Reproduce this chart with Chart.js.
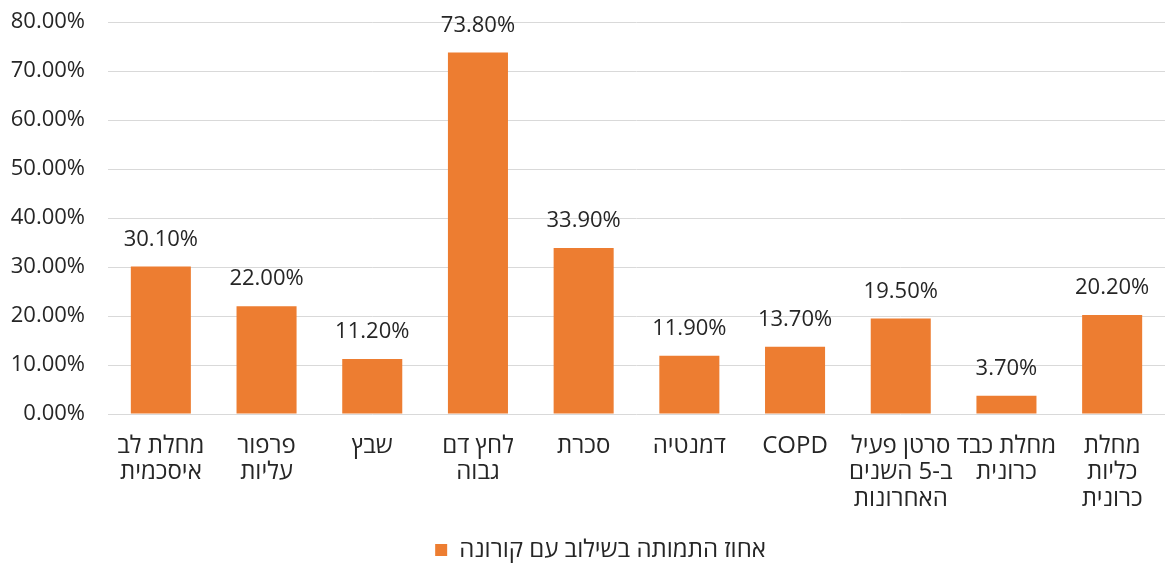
<!DOCTYPE html>
<html>
<head>
<meta charset="utf-8">
<script src="https://cdn.jsdelivr.net/npm/chart.js@4/dist/chart.umd.min.js"></script>
<style>
  html, body { margin: 0; padding: 0; background: #ffffff; }
  #wrap { width: 1165px; height: 565px; position: relative; }
</style>
</head>
<body>
<div id="wrap"><canvas id="c" width="1165" height="565"></canvas></div>
<script>
const categories = [
  ["מחלת לב", "איסכמית"],
  ["פרפור", "עליות"],
  "שבץ",
  ["לחץ דם", "גבוה"],
  "סכרת",
  "דמנטיה",
  "COPD",
  ["סרטן פעיל", "ב-5 השנים", "האחרונות"],
  ["מחלת כבד", "כרונית"],
  ["מחלת", "כליות", "כרונית"]
];
const seriesName = "אחוז התמותה בשילוב עם קורונה";
const values = [30.1, 22.0, 11.2, 73.8, 33.9, 11.9, 13.7, 19.5, 3.7, 20.2];
const yTicks = [0, 10, 20, 30, 40, 50, 60, 70, 80];

const FONT = "'Open Sans', 'DejaVu Sans', sans-serif";
const TEXT = '#262626';

const dataLabels = {
  id: 'dataLabels',
  afterDatasetsDraw(chart) {
    const ctx = chart.ctx;
    ctx.save();
    ctx.font = '22px ' + FONT;
    ctx.fillStyle = TEXT;
    ctx.textAlign = 'center';
    ctx.textBaseline = 'middle';
    chart.data.datasets.forEach((ds, di) => {
      const meta = chart.getDatasetMeta(di);
      meta.data.forEach((el, i) => {
        ctx.fillText(ds.data[i].toFixed(2) + '%', el.x, el.y - 27);
      });
    });
    ctx.restore();
  }
};

const legendShift = {
  id: 'legendShift',
  afterLayout(chart) {
    if (chart.legend) {
      chart.legend.left += 18;
      chart.legend.right += 18;
    }
  }
};

new Chart(document.getElementById('c'), {
  type: 'bar',
  data: {
    labels: categories,
    datasets: [{
      label: seriesName,
      data: values,
      backgroundColor: '#ED7D31',
      borderWidth: 0,
      categoryPercentage: 1.0,
      barPercentage: 0.568
    }]
  },
  options: {
    responsive: false,
    animation: false,
    devicePixelRatio: 1,
    layout: { padding: { top: 22, left: 0, right: 0, bottom: -7 } },
    plugins: {
      legend: {
        position: 'bottom',
        labels: {
          font: { family: FONT, size: 24 },
          color: TEXT,
          boxWidth: 12,
          boxHeight: 12,
          padding: 0
        }
      },
      tooltip: { enabled: false }
    },
    scales: {
      x: {
        grid: { display: false, drawTicks: false },
        border: { display: false },
        ticks: {
          font: { family: FONT, size: 24, lineHeight: 1.1 },
          color: TEXT,
          padding: 19,
          maxRotation: 0,
          autoSkip: false
        },
        afterFit(scale) { scale.height = 124; }
      },
      y: {
        min: 0,
        max: 80,
        afterBuildTicks(scale) { scale.ticks = yTicks.map(v => ({ value: v })); },
        grid: { color: '#d9d9d9', lineWidth: 1, drawTicks: false },
        border: { display: false },
        ticks: {
          font: { family: FONT, size: 22 },
          color: TEXT,
          padding: 23,
          callback: v => Number(v).toFixed(2) + '%'
        },
        afterFit(scale) {
          scale.width = 108;
          scale.paddingTop = 0;
          scale.paddingBottom = 0;
        }
      }
    }
  },
  plugins: [dataLabels, legendShift]
});
</script>
</body>
</html>
